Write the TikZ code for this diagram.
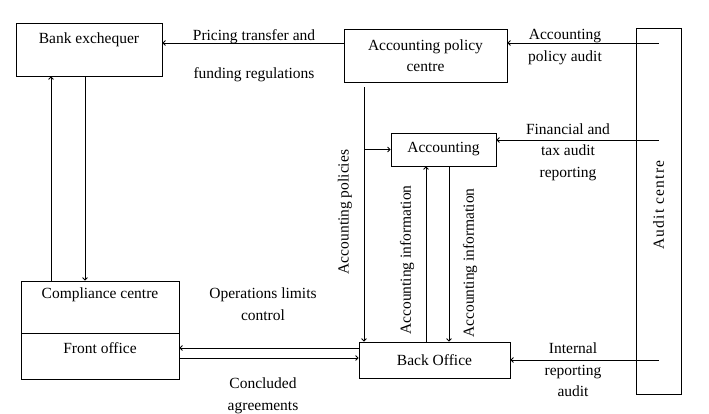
\documentclass[tikz,border=0pt]{standalone}
\usepackage{fontspec}
\setmainfont{Liberation Serif}
\usetikzlibrary{arrows.meta}
\begin{document}
\begin{tikzpicture}[x=1pt, y=-1pt, line width=0.8pt,
    >={Straight Barb[length=2.5pt, width=5pt]},
    font=\fontsize{15.5}{21.5}\selectfont,
    box/.style={draw, inner sep=0pt},
    lbl/.style={align=center, inner sep=0pt}]
    \useasboundingbox (0,0) rectangle (709,414);
    % boxes
    \node[box, minimum width=146pt, minimum height=53pt,
          label={[anchor=base, yshift=-21pt]north:Bank exchequer}] (bank) at (89,49.5) {};
    \node[box, minimum width=163pt, minimum height=53pt, align=center] (apc) at (425.5,55.5) {Accounting policy\\centre};
    \node[box, minimum width=105pt, minimum height=33pt] (acc) at (443.5,149.5) {Accounting};
    \node[box, minimum width=151pt, minimum height=36pt] (back) at (434.5,360) {Back Office};
    \node[box, minimum width=158pt, minimum height=52pt,
          label={[anchor=base, yshift=-18pt]north:Compliance centre}] (comp) at (100,307) {};
    \node[box, minimum width=158pt, minimum height=46pt,
          label={[anchor=base, yshift=-21pt]north:Front office}] (front) at (100,356) {};
    \node[box, rotate=90, minimum width=366pt, minimum height=45pt] (audit) at (658.5,211)
          {\hspace*{12pt}A\kern1.2pt u\kern1.2pt d\kern1.2pt i\kern1.2pt t\kern5pt c\kern1.2pt e\kern1.2pt n\kern1.2pt t\kern1.2pt r\kern1.2pt e};
    % helper coordinates
    \coordinate (row1) at (0,43);
    \coordinate (row2) at (0,140);
    \coordinate (upx) at (51,0);
    \coordinate (downx) at (85,0);
    \coordinate (polx) at (364,0);
    \coordinate (infup) at (426,0);
    \coordinate (infdown) at (449,0);
    % connectors
    \draw[->] (audit.west |- row1) -- (apc.east |- row1);
    \draw[->] (apc.west |- row1) -- (bank.east |- row1);
    \draw[->] (audit.west |- row2) -- (acc.east |- row2);
    \draw[->] (audit.west |- back.east) -- (back.east);
    \draw[->] (comp.north -| upx) -- (bank.south -| upx);
    \draw[->] (bank.south -| downx) -- (comp.north -| downx);
    \draw[->] ([yshift=-5pt]apc.south -| polx) -- (back.north -| polx);
    \draw[->] (acc.west -| polx) -- (acc.west);
    \draw[->] (back.north -| infup) -- (acc.south -| infup);
    \draw[->] (acc.south -| infdown) -- (back.north -| infdown);
    \draw[->] ([yshift=12pt]back.west) -- ([yshift=12pt]back.west -| front.east);
    \draw[->] ([yshift=-2pt]front.east) -- ([yshift=-2pt]front.east -| back.west);
    % labels
    \node[lbl] (l1) at (254,55.5) {Pricing transfer and\\[16.5pt]funding regulations};
    \node[lbl] (l2) at (565,47) {Accounting\\policy audit};
    \node[lbl] (l3) at (568,152) {Financial and\\tax audit\\reporting};
    \node[lbl] (l4) at (263,304) {Operations limits\\control};
    \node[lbl] (l5) at (263,396) {Concluded\\agreements};
    \node[lbl] (l6) at (573,370) {Internal\\reporting\\audit};
    \node[lbl, rotate=90] (l7) at (345,212) {Accounting policies};
    \node[lbl, rotate=90] (l8) at (407,260) {Accounting information};
    \node[lbl, rotate=90] (l9) at (470,263) {Accounting information};
\end{tikzpicture}
\end{document}
